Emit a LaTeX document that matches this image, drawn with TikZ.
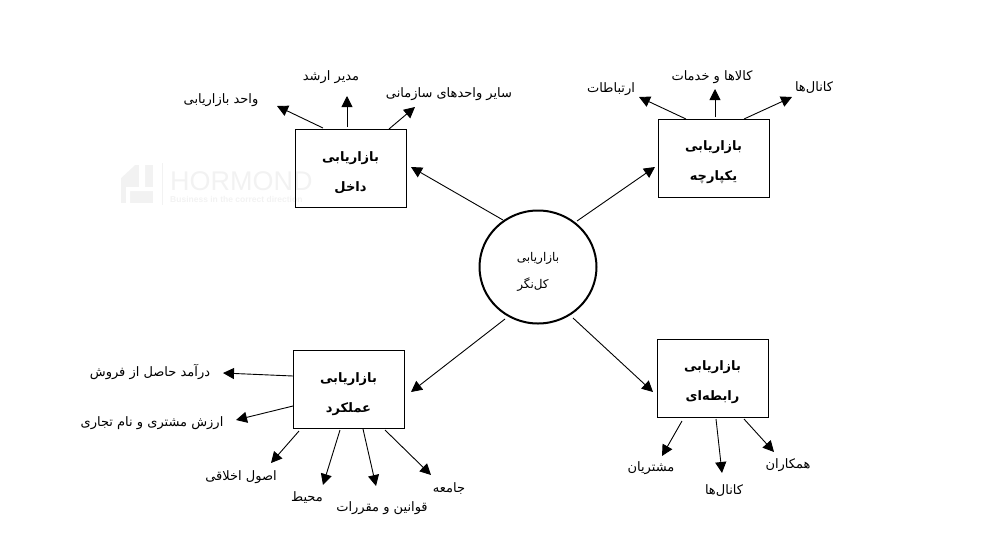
\documentclass[tikz,border=0pt]{standalone}
\usepackage{fontspec}
\setmainfont{Liberation Sans}
\newfontfamily\farsi[Script=Arabic]{DejaVu Sans}
\TeXXeTstate=1
\usetikzlibrary{arrows.meta,calc,shapes.geometric}
\newcommand{\fa}[1]{\beginR #1\endR}
\newcommand{\lowered}[1]{\rule{0pt}{#1}}
\definecolor{wm}{gray}{0.95}
\tikzset{
  x=1pt,y=-1pt,
  arrowline/.style={line width=0.9pt,-{Triangle[width=11pt,length=11pt]}},
  boxnode/.style={draw=black,line width=1pt,minimum width=111pt,minimum height=78pt,inner sep=0pt,align=center,
    font=\farsi\bfseries\fontsize{13}{30}\selectfont},
  hubnode/.style={draw=black,line width=2pt,ellipse,minimum width=117pt,minimum height=113pt,inner sep=0pt,align=center,
    font=\farsi\fontsize{12}{27}\selectfont},
  itemlabel/.style={inner sep=0pt,font=\farsi\fontsize{13}{15}\selectfont},
}
\begin{document}
\begin{tikzpicture}
\useasboundingbox (0,0) rectangle (998,552);
% watermark
\fill[wm] (121,165) rectangle (153,203);
\fill[white] (121,165) -- (135,165) -- (121,178) -- cycle;
\fill[white] (139,165) -- (145,165) -- (145,187) -- (153,187) -- (153,191) -- (130,191) -- (130,203) -- (126,203) -- (126,187) -- (139,187) -- cycle;
\draw[wm,line width=0.8pt] (162,163) -- (162,205);
\node[anchor=west,inner sep=0pt,text=wm,font=\fontsize{27}{27}\selectfont] (wmname) at (170,181) {HORMOND};
\node[anchor=west,inner sep=0pt,text=wm,font=\bfseries\fontsize{8.5}{9}\selectfont] (wmtag) at (170,199) {Business in the correct direction};

% main nodes
\node[boxnode] (inner) at (350.5,168) {\lowered{20pt}\fa{بازاریابی}\\\fa{داخل}};
\node[boxnode] (integ) at (713.5,158) {\lowered{19pt}\fa{بازاریابی}\\\fa{یکپارچه}};
\node[boxnode] (perf) at (348.5,389) {\lowered{21pt}\fa{بازاریابی}\\\fa{عملکرد}};
\node[boxnode] (rel) at (712.5,378) {\lowered{18pt}\fa{بازاریابی}\\\fa{رابطه‌ای}};
\node[hubnode] (hub) at (538,267) {\lowered{18pt}\fa{بازاریابی}\\\fa{کل‌نگر}\hspace*{10pt}};

% labels
\node[itemlabel] (a1) at (221,100) {\fa{واحد بازاریابی}};
\node[itemlabel] (a2) at (331,77) {\fa{مدیر ارشد}};
\node[itemlabel] (a3) at (449,94) {\fa{سایر واحدهای سازمانی}};
\node[itemlabel] (b1) at (611,89) {\fa{ارتباطات}};
\node[itemlabel] (b2) at (712,77) {\fa{کالاها و خدمات}};
\node[itemlabel] (b3) at (814,88) {\fa{کانال‌ها}};
\node[itemlabel] (c1) at (150,372) {\fa{درآمد حاصل از فروش}};
\node[itemlabel] (c2) at (152,423) {\fa{ارزش مشتری و نام تجاری}};
\node[itemlabel] (c3) at (241,477) {\fa{اصول اخلاقی}};
\node[itemlabel] (c4) at (307,498) {\fa{محیط}};
\node[itemlabel] (c5) at (382,508) {\fa{قوانین و مقررات}};
\node[itemlabel] (c6) at (449,489) {\fa{جامعه}};
\node[itemlabel] (d1) at (651,468) {\fa{مشتریان}};
\node[itemlabel] (d2) at (724,491) {\fa{کانال‌ها}};
\node[itemlabel] (d3) at (788,465) {\fa{همکاران}};

% hub connectors
\draw[arrowline] ($(hub)+(-35,-47)$) -- ($(inner)+(60.5,-1)$);
\draw[arrowline] ($(hub)+(39,-46)$) -- ($(integ)+(-58.5,9)$);
\draw[arrowline] ($(hub)+(-33,52)$) -- ($(perf)+(62.5,3)$);
\draw[arrowline] ($(hub)+(35,51)$) -- ($(rel)+(-59.5,14)$);
% inner
\draw[arrowline] ($(inner)+(-27.5,-40)$) -- ($(a1)+(56,6)$);
\draw[arrowline] ($(inner)+(-3.5,-41)$) -- ($(a2)+(16,19)$);
\draw[arrowline] ($(inner)+(38.5,-39)$) -- ($(a3)+(-34,13)$);
% integrated
\draw[arrowline] ($(integ)+(-27.5,-39)$) -- ($(b1)+(28,8)$);
\draw[arrowline] ($(integ)+(1.5,-41)$) -- ($(b2)+(3,12)$);
\draw[arrowline] ($(integ)+(30.5,-39)$) -- ($(b3)+(-22,9)$);
% performance
\draw[arrowline] ($(perf)+(-55.5,-13)$) -- ($(c1)+(73,1)$);
\draw[arrowline] ($(perf)+(-55.5,17)$) -- ($(c2)+(84,-3)$);
\draw[arrowline] ($(perf)+(-49.5,42)$) -- ($(c3)+(30,-14)$);
\draw[arrowline] ($(perf)+(-8.5,41)$) -- ($(c4)+(16,-13)$);
\draw[arrowline] ($(perf)+(14.5,40)$) -- ($(c5)+(-6,-22)$);
\draw[arrowline] ($(perf)+(36.5,41)$) -- ($(c6)+(-18,-14)$);
% relational
\draw[arrowline] ($(rel)+(-30.5,43)$) -- ($(d1)+(11,-12)$);
\draw[arrowline] ($(rel)+(3.5,41)$) -- ($(d2)+(-2,-18)$);
\draw[arrowline] ($(rel)+(31.5,41)$) -- ($(d3)+(-14,-13)$);
\end{tikzpicture}
\end{document}
